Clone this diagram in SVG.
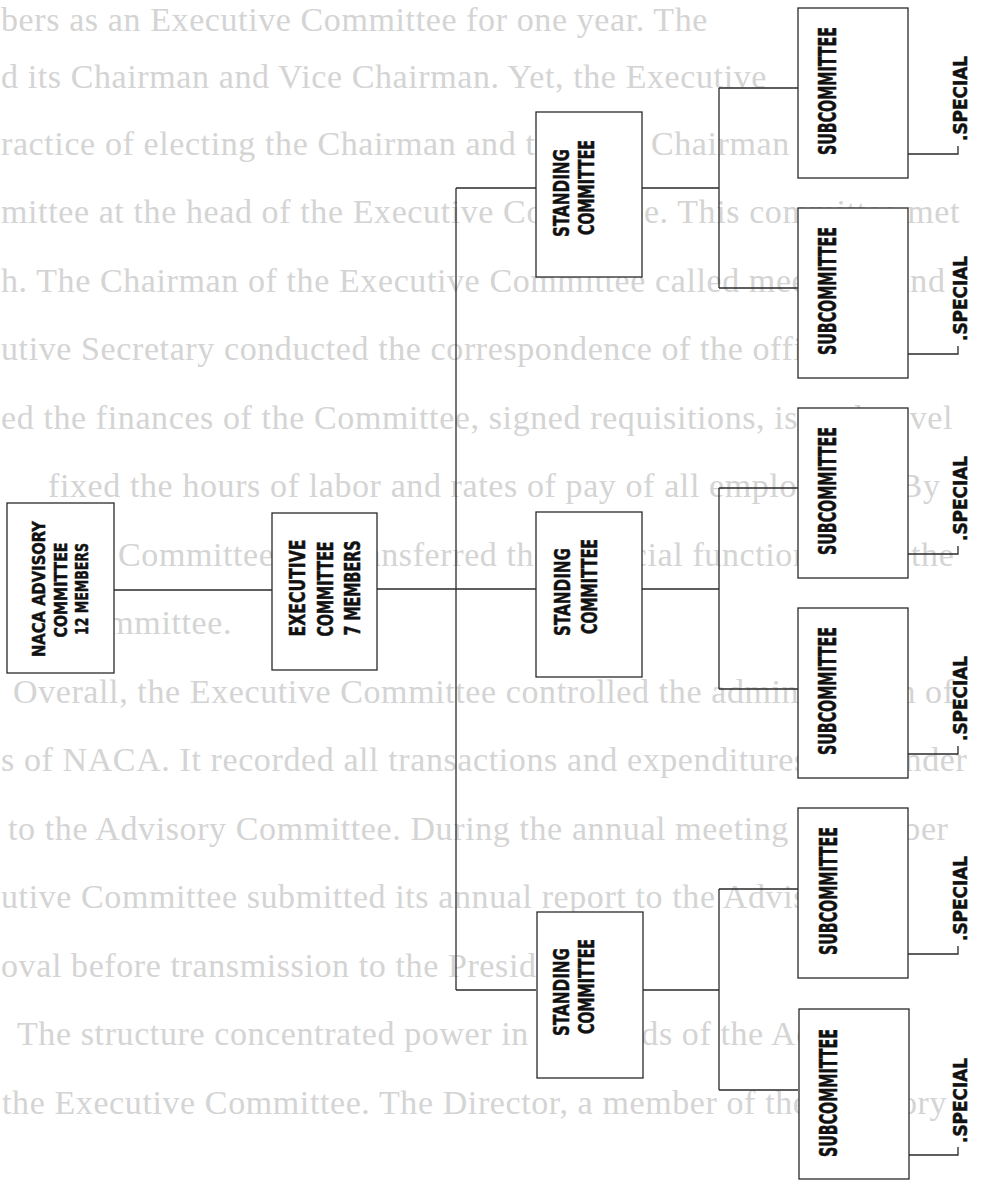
<svg xmlns="http://www.w3.org/2000/svg" width="984" height="1186" viewBox="0 0 984 1186">
<style>
.bg{font-family:"Liberation Serif","Times New Roman",serif;font-size:34px;fill:#d4d4d4;letter-spacing:0.6px}
.box{fill:#fff;stroke:#2a2a2a;stroke-width:1.3}
.ln{fill:none;stroke:#2a2a2a;stroke-width:1.3}
.lb{font-family:"DejaVu Sans Condensed","Liberation Sans Narrow","DejaVu Sans",sans-serif;font-weight:bold;fill:#111;stroke:#111;stroke-width:0.5}
.f18{font-size:18px}.f21{font-size:21px}.f24{font-size:24px}.f19{font-size:19px}
</style>
<rect width="984" height="1186" fill="#fff"/>
<g id="page-text" class="bg">
<text x="1" y="31">bers as an Executive Committee for one year.  The</text>
<text x="1" y="88">d its Chairman and Vice Chairman.  Yet, the Executive</text>
<text x="1" y="155">ractice of electing the Chairman and the Vice Chairman of the</text>
<text x="1" y="223">mittee at the head of the Executive Committee.  This committee met</text>
<text x="1" y="292">h.  The Chairman of the Executive Committee called meetings, and</text>
<text x="1" y="360">utive Secretary conducted the correspondence of the office.  The</text>
<text x="1" y="429">ed the finances of the Committee, signed requisitions, issued travel</text>
<text x="48" y="497">fixed the hours of labor and rates of pay of all employees.²³  By</text>
<text x="118" y="566">Committee had transferred the financial functions from the</text>
<text x="232" y="634" text-anchor="end">Committee.</text>
<text x="13" y="703">Overall, the Executive Committee controlled the administration of</text>
<text x="1" y="771">s of NACA.  It recorded all transactions and expenditures and render</text>
<text x="8" y="840">to the Advisory Committee.  During the annual meeting in October</text>
<text x="1" y="908">utive Committee submitted its annual report to the Advisory</text>
<text x="1" y="977">oval before transmission to the President.</text>
<text x="17" y="1045">The structure concentrated power in the hands of the Advisory</text>
<text x="2" y="1114">the Executive Committee.  The Director, a member of the Advisory</text>
</g>
<g id="connectors" class="ln">
<path d="M114,590 H272"/>
<path d="M377,589 H536"/>
<path d="M456,188 V990"/>
<path d="M456,188 H536"/>
<path d="M456,990 H536"/>
<path d="M642,188 H719 M719,88 V288"/>
<path d="M642,589 H719 M719,488 V689"/>
<path d="M642,990 H719 M719,889 V1090"/>
<path d="M719,88 H798 M719,288 H798 M719,488 H798 M719,689 H798 M719,889 H798 M719,1090 H798"/>
<path d="M908,154 H958 V146"/>
<path d="M908,354 H958 V346"/>
<path d="M908,554 H958 V546"/>
<path d="M908,754 H958 V746"/>
<path d="M908,954 H958 V946"/>
<path d="M908,1155 H958 V1147"/>
</g>
<g id="naca">
<rect class="box" x="7" y="503" width="107" height="170"/>
<text class="lb f18" text-anchor="middle" transform="translate(45,589) rotate(-90)" textLength="136" lengthAdjust="spacingAndGlyphs">NACA ADVISORY</text>
<text class="lb f18" text-anchor="middle" transform="translate(67,590) rotate(-90)" textLength="95" lengthAdjust="spacingAndGlyphs">COMMITTEE</text>
<text class="lb f18" text-anchor="middle" transform="translate(88,589) rotate(-90)" textLength="92" lengthAdjust="spacingAndGlyphs">12 MEMBERS</text>
</g>
<g id="executive">
<rect class="box" x="272" y="513" width="105" height="157"/>
<text class="lb f21" text-anchor="middle" transform="translate(305,588) rotate(-90)" textLength="97" lengthAdjust="spacingAndGlyphs">EXECUTIVE</text>
<text class="lb f21" text-anchor="middle" transform="translate(333,589) rotate(-90)" textLength="95" lengthAdjust="spacingAndGlyphs">COMMITTEE</text>
<text class="lb f21" text-anchor="middle" transform="translate(360,588) rotate(-90)" textLength="95" lengthAdjust="spacingAndGlyphs">7 MEMBERS</text>
</g>
<g id="standing-1">
<rect class="box" x="536" y="112" width="106" height="165"/>
<text class="lb f21" transform="translate(569,237) rotate(-90)" textLength="88" lengthAdjust="spacingAndGlyphs">STANDING</text>
<text class="lb f21" transform="translate(594,235) rotate(-90)" textLength="95" lengthAdjust="spacingAndGlyphs">COMMITTEE</text>
</g>
<g id="standing-2">
<rect class="box" x="536" y="512" width="106" height="165"/>
<text class="lb f21" transform="translate(570,636) rotate(-90)" textLength="88" lengthAdjust="spacingAndGlyphs">STANDING</text>
<text class="lb f21" transform="translate(597,634) rotate(-90)" textLength="95" lengthAdjust="spacingAndGlyphs">COMMITTEE</text>
</g>
<g id="standing-3">
<rect class="box" x="537" y="912" width="106" height="166"/>
<text class="lb f21" transform="translate(569,1036) rotate(-90)" textLength="88" lengthAdjust="spacingAndGlyphs">STANDING</text>
<text class="lb f21" transform="translate(594,1034) rotate(-90)" textLength="95" lengthAdjust="spacingAndGlyphs">COMMITTEE</text>
</g>
<g id="sub-1">
<rect class="box" x="798" y="8" width="110" height="170"/>
<text class="lb f24" text-anchor="middle" transform="translate(836,91) rotate(-90)" textLength="128" lengthAdjust="spacingAndGlyphs">SUBCOMMITTEE</text>
<text class="lb f19" transform="translate(967,141) rotate(-90)" textLength="85" lengthAdjust="spacingAndGlyphs">.SPECIAL</text>
</g>
<g id="sub-2">
<rect class="box" x="798" y="208" width="110" height="170"/>
<text class="lb f24" text-anchor="middle" transform="translate(836,291) rotate(-90)" textLength="128" lengthAdjust="spacingAndGlyphs">SUBCOMMITTEE</text>
<text class="lb f19" transform="translate(967,341) rotate(-90)" textLength="85" lengthAdjust="spacingAndGlyphs">.SPECIAL</text>
</g>
<g id="sub-3">
<rect class="box" x="798" y="408" width="110" height="170"/>
<text class="lb f24" text-anchor="middle" transform="translate(836,491) rotate(-90)" textLength="128" lengthAdjust="spacingAndGlyphs">SUBCOMMITTEE</text>
<text class="lb f19" transform="translate(967,541) rotate(-90)" textLength="85" lengthAdjust="spacingAndGlyphs">.SPECIAL</text>
</g>
<g id="sub-4">
<rect class="box" x="798" y="608" width="110" height="170"/>
<text class="lb f24" text-anchor="middle" transform="translate(836,691) rotate(-90)" textLength="128" lengthAdjust="spacingAndGlyphs">SUBCOMMITTEE</text>
<text class="lb f19" transform="translate(967,741) rotate(-90)" textLength="85" lengthAdjust="spacingAndGlyphs">.SPECIAL</text>
</g>
<g id="sub-5">
<rect class="box" x="798" y="808" width="110" height="170"/>
<text class="lb f24" text-anchor="middle" transform="translate(837,891) rotate(-90)" textLength="128" lengthAdjust="spacingAndGlyphs">SUBCOMMITTEE</text>
<text class="lb f19" transform="translate(967,941) rotate(-90)" textLength="85" lengthAdjust="spacingAndGlyphs">.SPECIAL</text>
</g>
<g id="sub-6">
<rect class="box" x="799" y="1009" width="110" height="170"/>
<text class="lb f24" text-anchor="middle" transform="translate(837,1093) rotate(-90)" textLength="128" lengthAdjust="spacingAndGlyphs">SUBCOMMITTEE</text>
<text class="lb f19" transform="translate(967,1143) rotate(-90)" textLength="85" lengthAdjust="spacingAndGlyphs">.SPECIAL</text>
</g>
</svg>
